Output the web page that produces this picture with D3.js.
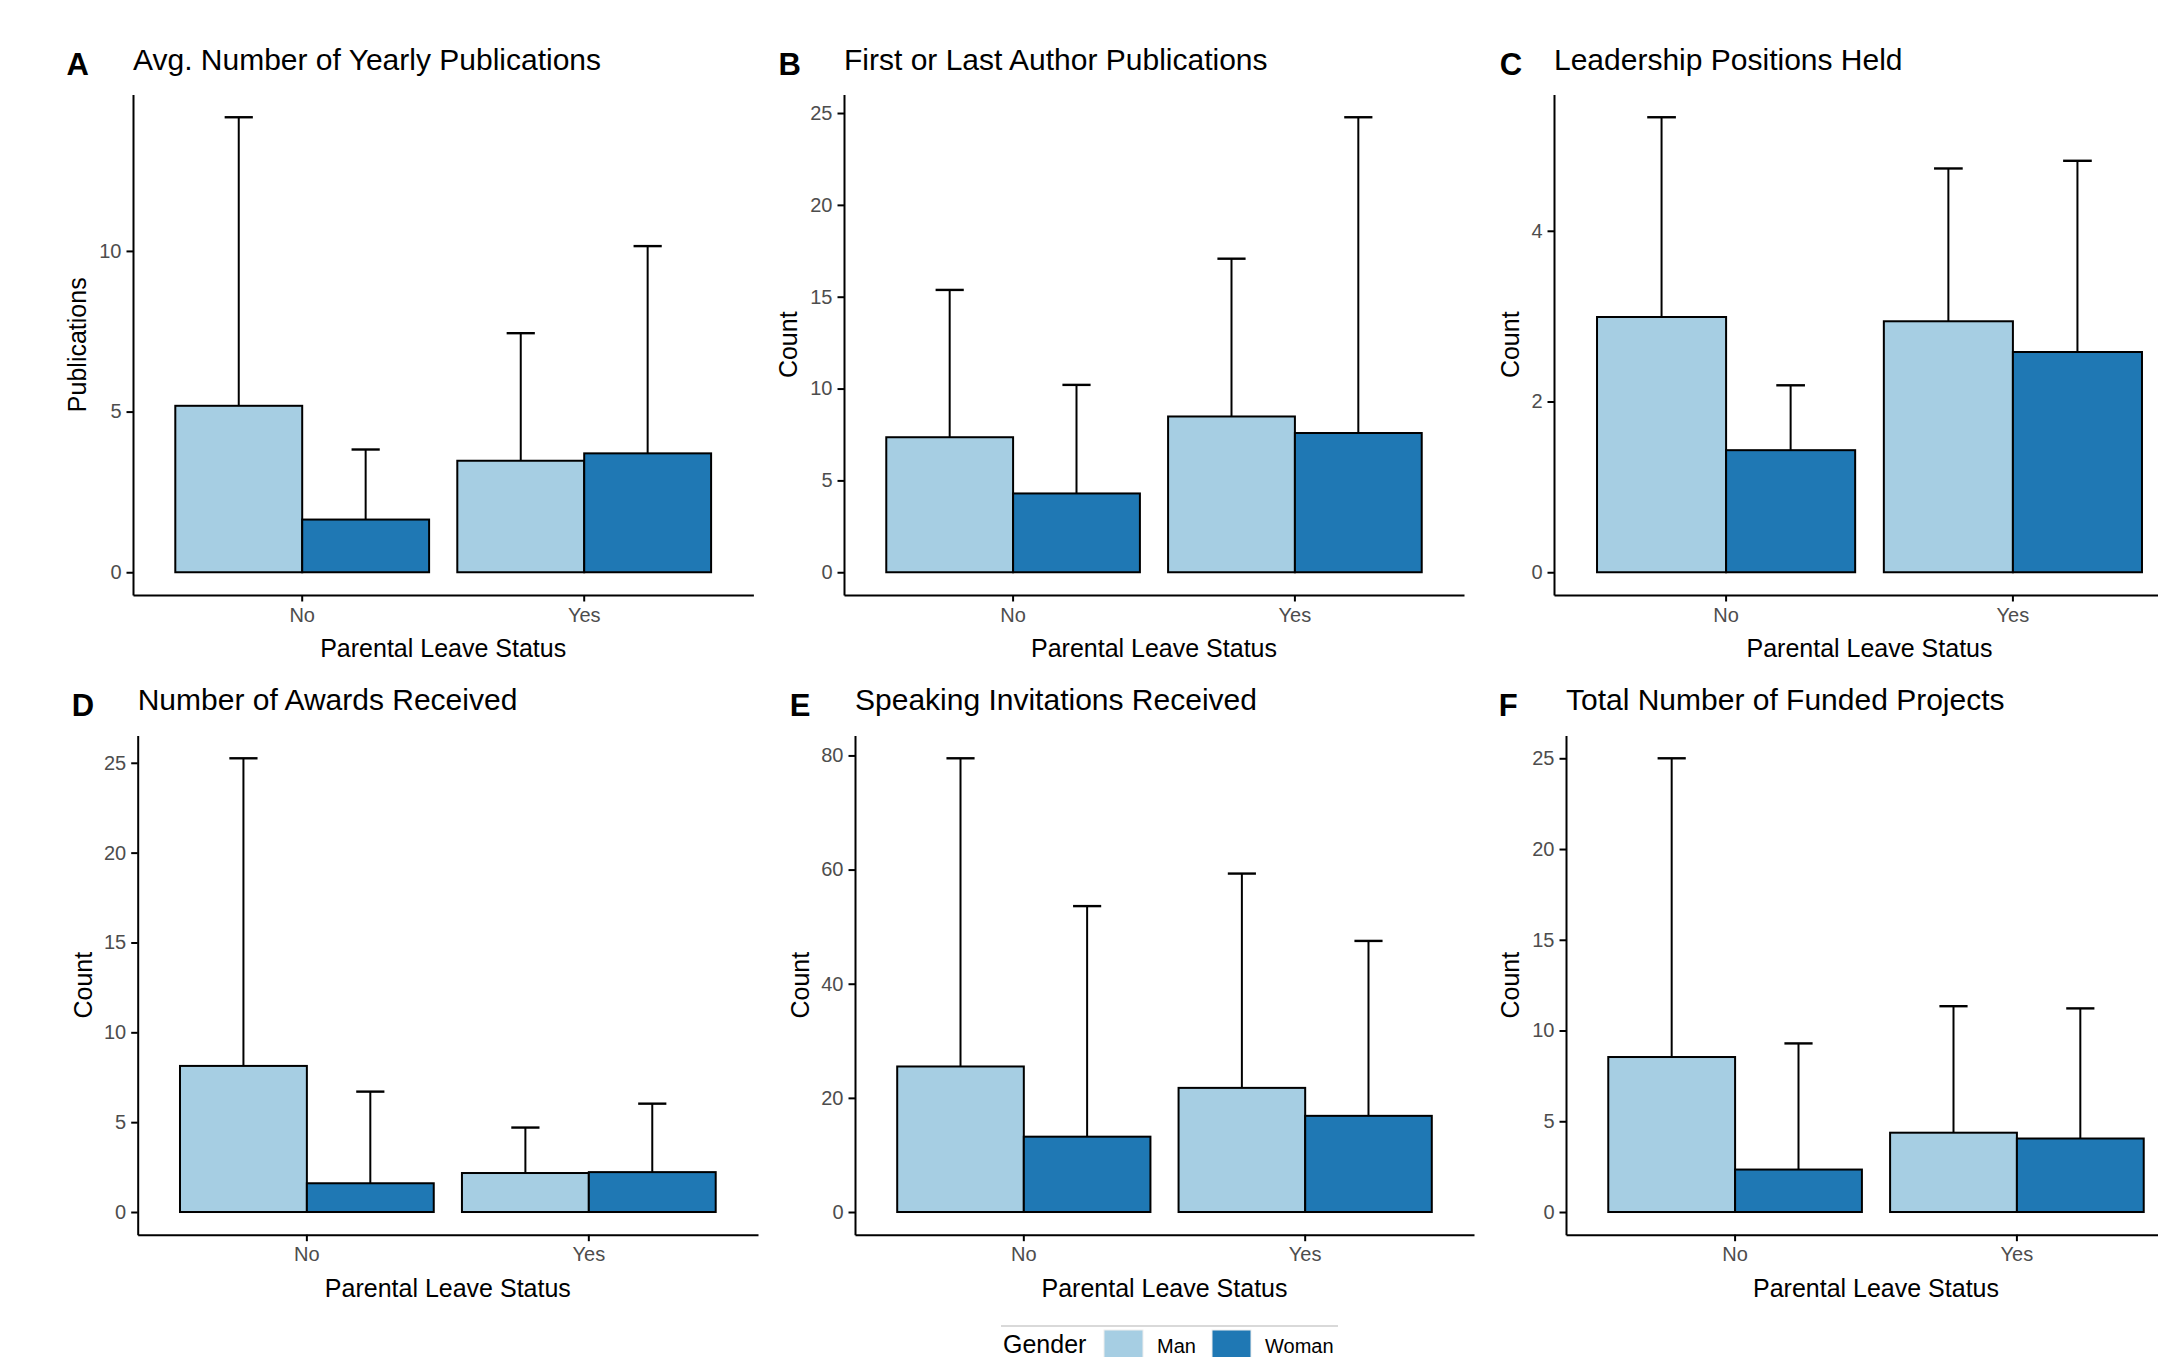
<!DOCTYPE html>
<html>
<head>
<meta charset="utf-8">
<script src="https://cdn.jsdelivr.net/npm/d3@7"></script>
<style>
  html, body { margin: 0; padding: 0; background: #ffffff; }
  svg { display: block; }
  text { font-family: "Liberation Sans", Arial, Helvetica, sans-serif; }
</style>
</head>
<body>
<svg id="chart" width="2158" height="1357"></svg>
<script>
// ---------------- DATA ----------------
const categories = ["No", "Yes"];
const genders = ["Man", "Woman"];
const genderColors = ["#a6cee3", "#1f78b4"];

const panelLetters = ["A", "B", "C", "D", "E", "F"];
const panelTitles = [
  "Avg. Number of Yearly Publications",
  "First or Last Author Publications",
  "Leadership Positions Held",
  "Number of Awards Received",
  "Speaking Invitations Received",
  "Total Number of Funded Projects"
];
const yAxisTitles = ["Publications", "Count", "Count", "Count", "Count", "Count"];
const xAxisTitle = "Parental Leave Status";
const legendTitle = "Gender";

// means, order: [No-Man, No-Woman, Yes-Man, Yes-Woman]
const meanA = [5.18, 1.64, 3.47, 3.70];
const meanB = [7.35, 4.29, 8.48, 7.58];
const meanC = [2.99, 1.43, 2.94, 2.58];
const meanD = [8.13, 1.60, 2.17, 2.22];
const meanE = [25.5, 13.2, 21.75, 16.85];
const meanF = [8.54, 2.34, 4.37, 4.05];

// upper error bar ends (mean + SD), same order
const upperA = [14.16, 3.82, 7.44, 10.15];
const upperB = [15.37, 10.2, 17.07, 24.77];
const upperC = [5.33, 2.19, 4.73, 4.82];
const upperD = [25.25, 6.70, 4.70, 6.03];
const upperE = [79.5, 53.6, 59.3, 47.5];
const upperF = [25.0, 9.29, 11.34, 11.22];

// y tick labels
const ticksA = [0, 5, 10];
const ticksB = [0, 5, 10, 15, 20, 25];
const ticksC = [0, 2, 4];
const ticksD = [0, 5, 10, 15, 20, 25];
const ticksE = [0, 20, 40, 60, 80];
const ticksF = [0, 5, 10, 15, 20, 25];

const means = [meanA, meanB, meanC, meanD, meanE, meanF];
const uppers = [upperA, upperB, upperC, upperD, upperE, upperF];
const ticks = [ticksA, ticksB, ticksC, ticksD, ticksE, ticksF];

// ---------------- LAYOUT ----------------
const rowTop = [94.5, 735.6];
const rowBottom = [595, 1234.7];
const rowTitleBase = [70.2, 710.4];
const rowLetterBase = [74.6, 715.5];
const panelLeft = [133, 844, 1554, 137.7, 855, 1566];
const panelRight = [753.4, 1464, 2185, 758, 1474, 2186];
const letterX = [66.4, 778.4, 1499.7, 71.7, 789.8, 1498.8];
const yTitleOffset = [47, 47, 35, 46, 46, 47];

const svg = d3.select("#chart");
const tickColor = "#4d4d4d";

panelLetters.forEach((letter, i) => {
  const row = i < 3 ? 0 : 1;
  const top = rowTop[row], bottom = rowBottom[row];
  const left = panelLeft[i], right = panelRight[i];
  const M = d3.max(uppers[i]);

  const y = d3.scaleLinear().domain([-0.05 * M, 1.05 * M]).range([bottom, top]);
  const x0 = d3.scaleBand().domain(categories).range([left, right])
    .paddingInner(0.1).paddingOuter(0.15);
  const x1 = d3.scaleBand().domain(genders).range([0, x0.bandwidth()]).padding(0);
  const capW = x0.step() * 0.1;

  const g = svg.append("g");

  // letter + title
  g.append("text").attr("x", letterX[i]).attr("y", rowLetterBase[row])
    .attr("font-size", 31).attr("font-weight", "bold").attr("fill", "#000").text(letter);
  g.append("text").attr("x", left).attr("y", rowTitleBase[row])
    .attr("font-size", 30).attr("fill", "#000").text(panelTitles[i]);

  const rows = [];
  categories.forEach((c, ci) => genders.forEach((gd, gi) => {
    rows.push({ cat: c, gender: gd, gi: gi, mean: means[i][ci * 2 + gi], upper: uppers[i][ci * 2 + gi] });
  }));

  // error bars (upper only) drawn under the bars
  const eb = g.append("g").attr("stroke", "#000").attr("stroke-width", 2).attr("fill", "none");
  rows.forEach(d => {
    const cx = x0(d.cat) + x1(d.gender) + x1.bandwidth() / 2;
    eb.append("line").attr("x1", cx).attr("x2", cx).attr("y1", y(d.mean)).attr("y2", y(d.upper));
    eb.append("line").attr("x1", cx - capW / 2).attr("x2", cx + capW / 2)
      .attr("y1", y(d.upper)).attr("y2", y(d.upper)).attr("stroke-width", 2.4);
  });

  // bars
  g.append("g").selectAll("rect").data(rows).join("rect")
    .attr("x", d => x0(d.cat) + x1(d.gender))
    .attr("width", x1.bandwidth())
    .attr("y", d => y(d.mean))
    .attr("height", d => y(0) - y(d.mean))
    .attr("fill", d => genderColors[d.gi])
    .attr("stroke", "#000").attr("stroke-width", 2);

  // y axis
  const ya = g.append("g").attr("transform", `translate(${left},0)`)
    .call(d3.axisLeft(y).tickValues(ticks[i]).tickFormat(d3.format("d"))
      .tickSize(6.5).tickSizeOuter(0).tickPadding(5));
  ya.select(".domain").attr("stroke", "#000").attr("stroke-width", 2);
  ya.selectAll(".tick line").attr("stroke", "#000").attr("stroke-width", 2);
  ya.selectAll(".tick text").attr("font-size", 20).attr("fill", tickColor)
    .attr("font-family", "Liberation Sans, Arial, sans-serif");

  // x axis
  const xa = g.append("g").attr("transform", `translate(0,${bottom})`)
    .call(d3.axisBottom(x0).tickSize(6.5).tickSizeOuter(0).tickPadding(6));
  xa.select(".domain").attr("stroke", "#000").attr("stroke-width", 2);
  xa.selectAll(".tick line").attr("stroke", "#000").attr("stroke-width", 2);
  xa.selectAll(".tick text").attr("font-size", 20).attr("fill", tickColor)
    .attr("font-family", "Liberation Sans, Arial, sans-serif");

  // axis titles
  g.append("text").attr("x", (left + right) / 2).attr("y", bottom + 62)
    .attr("text-anchor", "middle").attr("font-size", 25).attr("fill", "#000").text(xAxisTitle);
  g.append("text")
    .attr("transform", `translate(${left - yTitleOffset[i]},${(top + bottom) / 2}) rotate(-90)`)
    .attr("text-anchor", "middle").attr("font-size", 25).attr("fill", "#000").text(yAxisTitles[i]);
});

// legend
const lg = svg.append("g");
lg.append("line").attr("x1", 1001).attr("x2", 1338).attr("y1", 1326).attr("y2", 1326)
  .attr("stroke", "#cccccc").attr("stroke-width", 1.5);
lg.append("text").attr("x", 1003).attr("y", 1353).attr("font-size", 25).attr("fill", "#000").text(legendTitle);
const keyX = [1104, 1212];
const labelX = [1157, 1265];
genders.forEach((gd, gi) => {
  lg.append("rect").attr("x", keyX[gi]).attr("y", 1330).attr("width", 39).attr("height", 39)
    .attr("fill", genderColors[gi]).attr("stroke", "#eeeeee").attr("stroke-width", 1);
  lg.append("text").attr("x", labelX[gi]).attr("y", 1353).attr("font-size", 20).attr("fill", "#000").text(gd);
});
</script>
</body>
</html>
